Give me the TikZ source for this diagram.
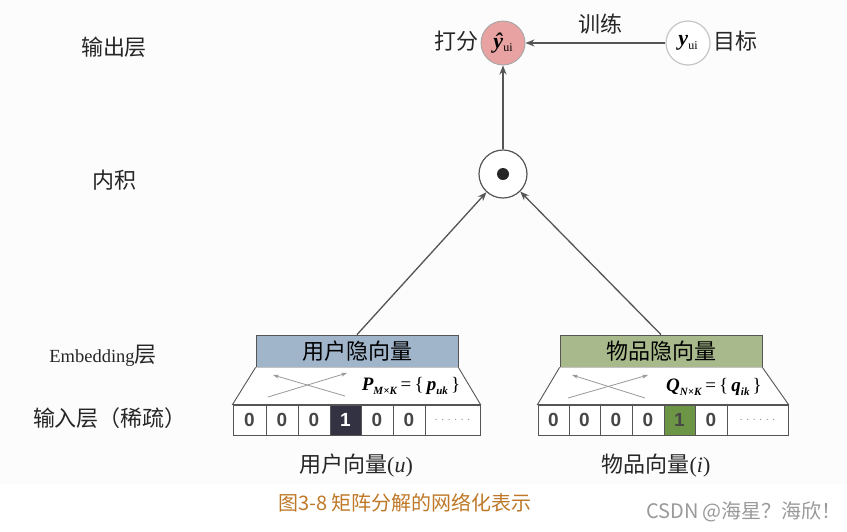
\documentclass[tikz,border=0pt]{standalone}
\usepackage{fontspec}
\setmainfont{Liberation Serif}
\setsansfont{Liberation Sans}
\newfontfamily\cjk{Noto Sans CJK SC}
\usetikzlibrary{arrows.meta}
\definecolor{pinkc}{RGB}{232,162,162}
\definecolor{bluec}{RGB}{160,180,202}
\definecolor{greenc}{RGB}{168,186,140}
\definecolor{darkc}{RGB}{50,50,66}
\definecolor{greencell}{RGB}{108,150,70}
\definecolor{linec}{RGB}{85,85,85}
\definecolor{capc}{RGB}{190,120,40}
\definecolor{bgc}{RGB}{252,252,252}
\newcommand{\bi}[1]{\textbf{\textit{#1}}}
\tikzset{
  lbl/.style={font=\cjk\fontsize{22}{24}\selectfont, text=black!85, inner sep=0pt},
  arr/.style={draw=linec, line width=1.3pt, -{Stealth[length=9pt,width=7pt]}},
  thinarr/.style={draw=gray!80, line width=0.8pt, -{Stealth[length=6pt,width=4pt]}},
  embbox/.style={draw=linec, line width=0.8pt, minimum width=202pt, minimum height=32pt, inner sep=0pt, font=\cjk\fontsize{22}{24}\selectfont},
  cell/.style={draw=linec, line width=1pt, fill=white, minimum height=30pt, inner sep=0pt, font=\sffamily\bfseries\fontsize{19}{20}\selectfont, text=black!72},
  dotscell/.style={cell, font=\sffamily\fontsize{10}{10}\selectfont, text=gray},
  formula/.style={font=\fontsize{19}{20}\selectfont, inner sep=0pt},
}
\begin{document}
\begin{tikzpicture}[x=1pt,y=-1pt]
\useasboundingbox (0,0) rectangle (847,531);
\fill[bgc] (0,0) rectangle (847,484);

% layer labels
\node[lbl] (lout) at (114,47) {输出层};
\node[lbl] (linner) at (114,180) {内积};
\node[lbl] (lemb) at (103,356) {{\rmfamily\fontsize{18.5}{21}\selectfont Embedding}层};
\node[lbl] (linput) at (110,418) {输入层（稀疏）};

% output
\node[circle, draw=gray!70, line width=0.9pt, fill=pinkc, minimum size=44pt, inner sep=0pt] (yhat) at (503,43) {\fontsize{22}{24}\selectfont\bi{\^{y}}\raisebox{-0.35ex}{\fontsize{12}{12}\selectfont ui}};
\node[circle, draw=gray!45, line width=1.2pt, fill=white, minimum size=44pt, inner sep=0pt] (y) at (688,43) {\fontsize{22}{24}\selectfont\bi{y}\raisebox{-0.35ex}{\fontsize{12}{12}\selectfont ui}};
\node[lbl] (score) at (456,41) {打分};
\node[lbl] (target) at (735,41) {目标};
\draw[arr] (y) -- (yhat);
\node[lbl] (train) at (600,24) {训练};

% inner product
\node[circle, draw=linec, line width=1.2pt, fill=white, minimum size=48pt] (dot) at (503,174) {};
\fill[black!85] (dot.center) circle (6);
\draw[arr] (dot) -- (yhat);

% embedding boxes
\node[embbox, fill=bluec] (ue) at (357,351) {用户隐向量};
\node[embbox, fill=greenc] (ie) at (661,351) {物品隐向量};
\draw[arr] (ue.north) -- (dot);
\draw[arr] (ie.north) -- (dot);

% user input row
\node[cell, minimum width=33pt] (u1) at (249.5,420) {0};
\node[cell, minimum width=32pt] (u2) at (282,420) {0};
\node[cell, minimum width=32pt] (u3) at (314,420) {0};
\node[cell, minimum width=31pt, fill=darkc, text=white] (u4) at (345.5,420) {1};
\node[cell, minimum width=32pt] (u5) at (377,420) {0};
\node[cell, minimum width=32pt] (u6) at (409,420) {0};
\node[dotscell, minimum width=55pt] (u7) at (452.5,420) {. . . . . .};
% trapezoid
\draw[linec, line width=0.9pt, fill=white] (ue.south west) -- (u1.north west) -- (u7.north east) -- (ue.south east);
\coordinate (ua1) at (268,397); \coordinate (ub1) at (347,373);
\coordinate (ua2) at (345,396); \coordinate (ub2) at (273,375);
\draw[thinarr] (ua1) -- (ub1);
\draw[thinarr] (ua2) -- (ub2);
\node[formula] (pform) at (411,386) {\bi{P}\raisebox{-0.45ex}{\fontsize{11}{11}\selectfont\bi{M×K}}\,=\,\{\,\bi{p}\raisebox{-0.45ex}{\fontsize{11}{11}\selectfont\bi{uk}}\,\}};
\node[lbl] (ulab) at (356,466) {用户向量{\rmfamily(\textit{u})}};

% item input row
\node[cell, minimum width=31pt] (i1) at (553.5,420) {0};
\node[cell, minimum width=31pt] (i2) at (584.5,420) {0};
\node[cell, minimum width=32pt] (i3) at (616,420) {0};
\node[cell, minimum width=32pt] (i4) at (648,420) {0};
\node[cell, minimum width=31pt, fill=greencell] (i5) at (679.5,420) {1};
\node[cell, minimum width=32pt] (i6) at (711,420) {0};
\node[dotscell, minimum width=61pt] (i7) at (757.5,420) {. . . . . .};
\draw[linec, line width=0.9pt, fill=white] (ie.south west) -- (i1.north west) -- (i7.north east) -- (ie.south east);
\coordinate (ia1) at (568,398); \coordinate (ib1) at (648,375);
\coordinate (ia2) at (645,398); \coordinate (ib2) at (572,375);
\draw[thinarr] (ia1) -- (ib1);
\draw[thinarr] (ia2) -- (ib2);
\node[formula] (qform) at (714,387) {\bi{Q}\raisebox{-0.45ex}{\fontsize{11}{11}\selectfont\bi{N×K}}\,=\,\{\,\bi{q}\raisebox{-0.45ex}{\fontsize{11}{11}\selectfont\bi{ik}}\,\}};
\node[lbl] (ilab) at (656,466) {物品向量{\rmfamily(\textit{i})}};

% caption
\node[font=\cjk\fontsize{20}{22}\selectfont, text=capc, inner sep=0pt] (cap) at (405,503) {图3-8 矩阵分解的网络化表示};
\node[font=\cjk\fontsize{20}{22}\selectfont, text=gray!80, inner sep=0pt] (csdn) at (744,512) {CSDN @海星？海欣！};
\end{tikzpicture}
\end{document}
